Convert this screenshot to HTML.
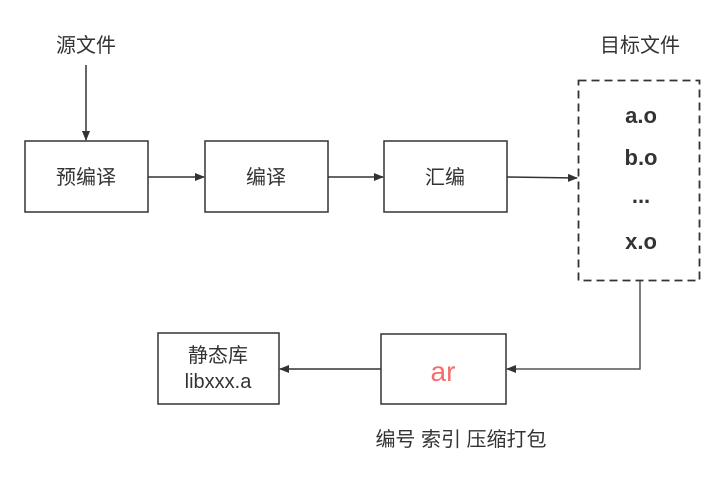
<!DOCTYPE html>
<html><head><meta charset="utf-8"><style>
html,body{margin:0;padding:0;background:#fff;width:728px;height:484px;overflow:hidden}
text{font-family:"Liberation Sans","Noto Sans CJK SC",sans-serif;fill:#333}
</style></head><body>
<svg width="728" height="484" viewBox="0 0 728 484" xmlns="http://www.w3.org/2000/svg">
<defs><marker id="a" markerWidth="10" markerHeight="10" refX="9" refY="5" orient="auto" markerUnits="userSpaceOnUse"><path d="M0,1 L10,5 L0,9 Z" fill="#333"/></marker></defs>
<g stroke="#333" stroke-width="1.5" fill="none">
<rect x="25" y="141" width="123" height="71"/>
<rect x="205" y="141" width="123" height="71"/>
<rect x="384" y="141" width="123" height="71"/>
<rect x="578.5" y="80.5" width="121" height="200" stroke-dasharray="8,5" stroke-width="1.8"/>
<rect x="381" y="334" width="125" height="70"/>
<rect x="158" y="333" width="121" height="71"/>
<line x1="86" y1="65" x2="86" y2="140" marker-end="url(#a)"/>
<line x1="148" y1="177" x2="204" y2="177" marker-end="url(#a)"/>
<line x1="328" y1="177" x2="383" y2="177" marker-end="url(#a)"/>
<line x1="507" y1="177" x2="577" y2="178" marker-end="url(#a)"/>
<polyline points="640,281 640,369 507,369" marker-end="url(#a)" stroke="#555"/>
<line x1="381" y1="369" x2="280" y2="369" marker-end="url(#a)"/>
</g>
<g font-size="20" text-anchor="middle">
<text x="86" y="52">源文件</text>
<text x="640" y="52">目标文件</text>
<text x="86" y="184">预编译</text>
<text x="266" y="184">编译</text>
<text x="445" y="184">汇编</text>
<text x="218" y="362">静态库</text>
<text x="218" y="388">libxxx.a</text>
<text x="461" y="446">编号 索引 压缩打包</text>
</g>
<g font-size="22" font-weight="bold" text-anchor="middle">
<text x="641" y="123">a.o</text>
<text x="641" y="165">b.o</text>
<text x="641" y="203">...</text>
<text x="641" y="249">x.o</text>
</g>
<text x="443" y="381" font-size="28" text-anchor="middle" style="fill:#f46d6d">ar</text>
</svg>
</body></html>
